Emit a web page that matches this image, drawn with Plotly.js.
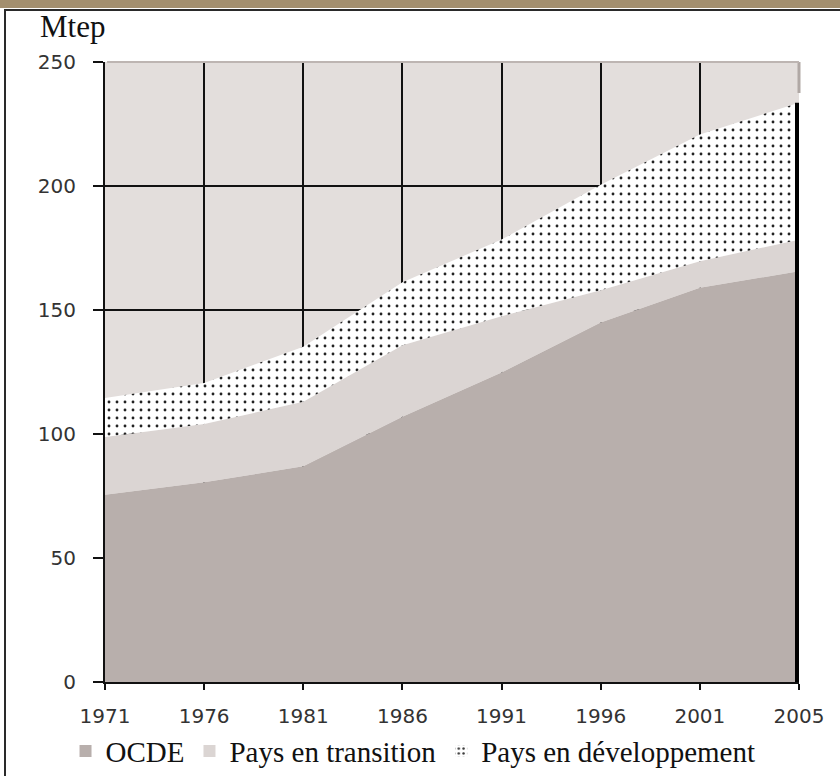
<!DOCTYPE html>
<html>
<head>
<meta charset="utf-8">
<script src="https://cdn.plot.ly/plotly-3.0.1.min.js"></script>
<style>
  html, body { margin: 0; padding: 0; background: #ffffff; }
  #page { position: relative; width: 840px; height: 776px; overflow: hidden; background: #ffffff; }
  #band { position: absolute; left: 0; top: 0; width: 840px; height: 8px; background: #a38f6f; }
  #frame { position: absolute; left: 4px; top: 9px; width: 840px; height: 780px;
           border-left: 2px solid #2a2a2a; border-top: 2px solid #2a2a2a; }
  #chart { position: absolute; left: 0; top: 0; width: 840px; height: 776px; }
</style>
</head>
<body>
<div id="page">
  <div id="band"></div>
  <div id="frame"></div>
  <div id="chart"></div>
</div>
<script>
// Data (Mtep)
const years = ["1971", "1976", "1981", "1986", "1991", "1996", "2001", "2005"];
const ocde = [75.5, 80.5, 87.0, 107.0, 124.8, 145.0, 159.0, 165.6];
const transition = [23.3, 23.5, 26.0, 28.8, 22.7, 13.0, 10.7, 12.7];
const developpement = [15.7, 16.6, 22.2, 25.4, 30.9, 42.5, 51.1, 55.3];
const yTicks = [0, 50, 100, 150, 200, 250];
const seriesNames = ["OCDE", "Pays en transition", "Pays en développement"];

const colOCDE = "#b8afac";
const colTrans = "#dbd5d3";
const dotPattern = { shape: ".", bgcolor: "#ffffff", fgcolor: "#222222", size: 8, solidity: 0.1 };

const idx = years.map((_, i) => i);
const totals = idx.map(i => ocde[i] + transition[i] + developpement[i]);
const last = idx.length - 1;

const traces = [
  {
    x: idx, y: ocde, name: seriesNames[0], type: "scatter", mode: "lines",
    stackgroup: "s", line: { width: 0, color: colOCDE }, fillcolor: colOCDE,
    showlegend: false, hoverinfo: "skip"
  },
  {
    x: idx, y: transition, name: seriesNames[1], type: "scatter", mode: "lines",
    stackgroup: "s", line: { width: 0, color: colTrans }, fillcolor: colTrans,
    showlegend: false, hoverinfo: "skip"
  },
  {
    x: idx, y: developpement, name: seriesNames[2], type: "scatter", mode: "lines",
    stackgroup: "s", line: { width: 0, color: "#ffffff" }, fillcolor: "#ffffff",
    fillpattern: dotPattern, showlegend: false, hoverinfo: "skip"
  },
  {
    // thick black edge at the last year, from 0 to the stacked total
    x: [last, last], y: [0, totals[last]], type: "scatter", mode: "lines",
    line: { color: "#000000", width: 8 }, showlegend: false, hoverinfo: "skip"
  },
  // legend entries (square swatches)
  { type: "bar", x: [null], y: [null], name: seriesNames[0],
    marker: { color: colOCDE, line: { width: 0 } }, hoverinfo: "skip" },
  { type: "bar", x: [null], y: [null], name: seriesNames[1],
    marker: { color: colTrans, line: { width: 0 } }, hoverinfo: "skip" },
  { type: "bar", x: [null], y: [null], name: seriesNames[2],
    marker: { color: "#ffffff", line: { width: 0 },
              pattern: { shape: ".", bgcolor: "#ffffff", fgcolor: "#333333", size: 6, solidity: 0.2 } },
    hoverinfo: "skip" }
];

const layout = {
  width: 840, height: 776,
  margin: { l: 105, r: 41, t: 62, b: 94 },
  paper_bgcolor: "rgba(0,0,0,0)",
  plot_bgcolor: "#e3dedc",
  showlegend: true,
  font: { family: "DejaVu Sans", size: 16, color: "#222222" },
  xaxis: {
    type: "linear", range: [0, last],
    tickmode: "array", tickvals: idx, ticktext: years,
    showgrid: true, gridcolor: "#111111", gridwidth: 2,
    zeroline: false,
    showline: true, linecolor: "#111111", linewidth: 2,
    ticks: "outside", ticklen: 6, tickwidth: 2, tickcolor: "#111111",
    ticklabelstandoff: 9,
    tickfont: { family: "DejaVu Sans", size: 20, color: "#333333" }
  },
  yaxis: {
    range: [0, 250],
    tickmode: "array", tickvals: yTicks,
    showgrid: true, gridcolor: "#111111", gridwidth: 2,
    zeroline: false,
    showline: true, linecolor: "#111111", linewidth: 2,
    ticks: "outside", ticklen: 10, tickwidth: 2, tickcolor: "#111111",
    ticklabelstandoff: 13,
    tickfont: { family: "DejaVu Sans", size: 20, color: "#333333" }
  },
  shapes: [
    { type: "line", xref: "paper", yref: "paper", x0: 0.003, x1: 1, y0: 1, y1: 1,
      line: { color: "#bdb5b2", width: 2 }, layer: "above" },
    { type: "line", xref: "paper", yref: "paper", x0: 1, x1: 1, y0: 1, y1: 0.95,
      line: { color: "#b0a8a5", width: 3 }, layer: "below" }
  ],
  annotations: [
    { text: "Mtep", xref: "paper", yref: "paper", x: -0.097, y: 1.026,
      xanchor: "left", yanchor: "bottom", showarrow: false,
      font: { family: "Liberation Serif", size: 31, color: "#111111" } }
  ],
  legend: {
    orientation: "h", xref: "container", yref: "container",
    x: 0.078, xanchor: "left", y: 0.032, yanchor: "middle",
    font: { family: "Liberation Serif", size: 29, color: "#111111" },
    bgcolor: "rgba(0,0,0,0)", itemwidth: 30, tracegroupgap: 0,
    traceorder: "normal"
  }
};

Plotly.newPlot("chart", traces, layout, { displayModeBar: false, staticPlot: true });
</script>
</body>
</html>
